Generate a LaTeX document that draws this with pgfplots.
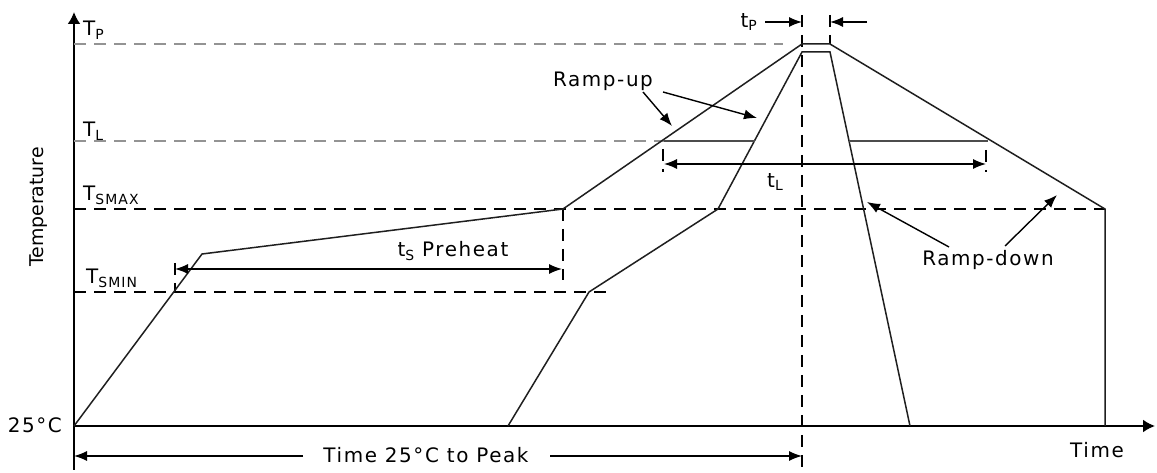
\documentclass[border=0pt]{standalone}
\usepackage{fontspec}
\setmainfont{DejaVu Sans}
\newfontfamily\wide[LetterSpace=8]{DejaVu Sans}
\usepackage{pgfplots}
\pgfplotsset{compat=1.18}
\usetikzlibrary{arrows.meta}
% small lowered capitals for T_P, T_SMAX, t_L ...
\newcommand{\sub}[1]{\raisebox{-0.35ex}{\fontsize{14}{16}\selectfont #1}}
\tikzset{
    prof/.style={line width=1.5bp, color=black!88},
    dsh/.style={line width=1.4bp, dash pattern=on 12bp off 8bp},
    arr/.style={line width=1.4bp, black, -{Latex[length=13bp,width=10bp]}},
    darr/.style={line width=1.4bp, black, {Latex[length=13bp,width=10bp]}-{Latex[length=13bp,width=10bp]}},
    lab/.style={font=\wide\fontsize{20}{24}\selectfont, inner sep=0pt},
}

\begin{document}
\begin{tikzpicture}
\begin{axis}[
    width=1081bp, height=458bp, scale only axis,
    xmin=0, xmax=1081, ymin=-44, ymax=414,
    axis lines=middle,
    xtick=\empty, ytick=\empty,
    clip=false,
    axis line style={line width=2bp, -{Latex[length=12bp,width=13bp]}},
]
% picture frame (1157 x 472)
\path (axis cs:-74,-46) rectangle (axis cs:1083,426);

% level lines
\addplot[dsh, gray!85] coordinates {(0,382) (709,382)};   % T_P
\addplot[dsh, gray!85] coordinates {(0,285) (590,285)};   % T_L
\addplot[dsh, black] coordinates {(0,217) (1031,217)};    % T_SMAX
\addplot[dsh, black] coordinates {(0,134) (535,134)};     % T_SMIN

% vertical markers
\addplot[dsh, black] coordinates {(728,411) (728,-46)};
\addplot[dsh, black] coordinates {(756,411) (756,382)};
\addplot[dsh, black] coordinates {(489,217) (489,146)};
\addplot[dsh, black] coordinates {(101,163) (101,133)};
\addplot[dsh, black] coordinates {(589,277) (589,254)};
\addplot[dsh, black] coordinates {(912,276) (912,254)};

% outer profile
\addplot[prof] coordinates {(0,0) (128,172) (489,217) (728,382) (756,382) (1031,217) (1031,0)};
% inner profile
\addplot[prof] coordinates {(434,0) (515,134) (644,217) (728,374) (756,374) (836,0)};
% liquidus segments
\addplot[line width=1.5bp, black!70] coordinates {(590,285) (681,285)};
\addplot[line width=1.5bp, black!70] coordinates {(775,285) (914,285)};

% durations
\addplot[darr] coordinates {(101,157) (488,157)};
\addplot[darr] coordinates {(590,262) (912,262)};
\addplot[arr] coordinates {(229,-30) (0,-30)};
\addplot[arr] coordinates {(476,-30) (728,-30)};
\addplot[arr] coordinates {(691,404) (728,404)};
\addplot[arr] coordinates {(793,404) (756,404)};

% ramp pointers
\addplot[arr] coordinates {(569,334) (598,300)};
\addplot[arr] coordinates {(589,334) (683,308)};
\addplot[arr] coordinates {(875,179) (793,224)};
\addplot[arr] coordinates {(931,180) (983,231)};

% labels
\node[lab, anchor=base west] at (axis cs:9,390) {T\sub{P}};
\node[lab, anchor=base west] at (axis cs:9,289) {T\sub{L}};
\node[lab, anchor=base west] at (axis cs:9,225) {T\sub{SMAX}};
\node[lab, anchor=base west] at (axis cs:12,142) {T\sub{SMIN}};
\node[lab, anchor=base east] at (axis cs:-12,-7) {25°C};
\node[font=\fontsize{19}{23}\selectfont, inner sep=0pt, rotate=90] at (axis cs:-35,219) {Temperature};
\node[lab] at (axis cs:1023,-24) {Time};
\node[lab] at (axis cs:352,-29) {Time 25°C to Peak};
\node[lab] at (axis cs:379,175) {t\sub{S} Preheat};
\node[lab] at (axis cs:529,345) {Ramp-up};
\node[lab] at (axis cs:914,166) {Ramp-down};
\node[lab] at (axis cs:701,244) {t\sub{L}};
\node[lab, anchor=east] at (axis cs:683,404) {t\sub{P}};
\end{axis}
\end{tikzpicture}
\end{document}
